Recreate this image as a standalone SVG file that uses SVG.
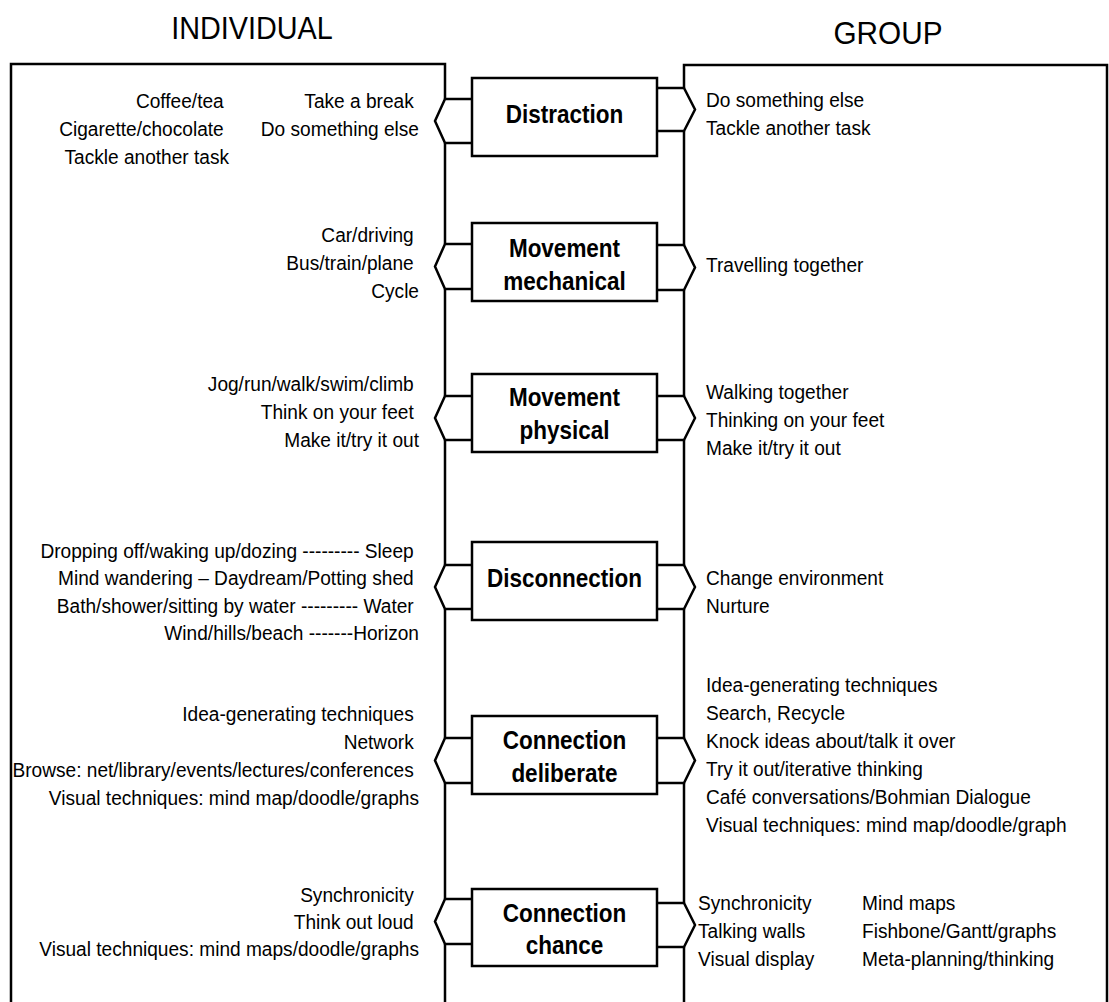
<svg xmlns="http://www.w3.org/2000/svg" width="1109" height="1002" viewBox="0 0 1109 1002">
  <style>
    .frame { fill: none; stroke: #000; stroke-width: 2.5; }
    .box { fill: #fff; stroke: #000; stroke-width: 2.5; }
    .link { fill: none; stroke: #000; stroke-width: 2.5; stroke-linejoin: miter; }
    .head { font-family: "Liberation Sans", Arial, sans-serif; font-size: 32px; fill: #000; }
    .label { font-family: "Liberation Sans", Arial, sans-serif; font-size: 25px; font-weight: bold; fill: #000; text-anchor: middle; }
    .item { font-family: "Liberation Sans", Arial, sans-serif; font-size: 21px; fill: #000; }
    .r { text-anchor: end; }
  </style>

  <rect width="1109" height="1002" fill="#fff"/>

  <!-- column headings -->
  <text class="head" text-anchor="middle" transform="matrix(0.9 0 0 1 252 39)">INDIVIDUAL</text>
  <text class="head" text-anchor="middle" transform="matrix(0.93 0 0 1 888 44)">GROUP</text>

  <!-- INDIVIDUAL panel: open at the bottom, broken where the connectors meet it -->
  <g id="panel-individual">
    <path class="frame" d="M11,1002 V64 H445 V99 M445,143 V244 M445,289 V396 M445,440 V565 M445,609 V738 M445,783 V899 M445,944 V1002"/>
    <text class="item r" transform="matrix(0.91 0 0 1 229 0)">
      <tspan x="0" y="108">Coffee/tea</tspan>
      <tspan x="0" y="136">Cigarette/chocolate</tspan>
      <tspan x="0" y="164">Tackle another task</tspan>
    </text>
    <text class="item r" transform="matrix(0.91 0 0 1 419 0)">
      <tspan x="0" y="108">Take a break</tspan>
      <tspan x="0" y="136">Do something else</tspan>
    </text>
    <text class="item r" transform="matrix(0.91 0 0 1 419 0)">
      <tspan x="0" y="242">Car/driving</tspan>
      <tspan x="0" y="270">Bus/train/plane</tspan>
      <tspan x="0" y="298">Cycle</tspan>
    </text>
    <text class="item r" transform="matrix(0.91 0 0 1 419 0)">
      <tspan x="0" y="391">Jog/run/walk/swim/climb</tspan>
      <tspan x="0" y="419">Think on your feet</tspan>
      <tspan x="0" y="447">Make it/try it out</tspan>
    </text>
    <text class="item r" transform="matrix(0.91 0 0 1 419 0)">
      <tspan x="0" y="558">Dropping off/waking up/dozing --------- Sleep</tspan>
      <tspan x="0" y="585">Mind wandering – Daydream/Potting shed</tspan>
      <tspan x="0" y="613">Bath/shower/sitting by water --------- Water</tspan>
      <tspan x="0" y="640">Wind/hills/beach -------Horizon</tspan>
    </text>
    <text class="item r" transform="matrix(0.91 0 0 1 419 0)">
      <tspan x="0" y="721">Idea-generating techniques</tspan>
      <tspan x="0" y="749">Network</tspan>
      <tspan x="0" y="777">Browse: net/library/events/lectures/conferences</tspan>
      <tspan x="0" y="805">Visual techniques: mind map/doodle/graphs</tspan>
    </text>
    <text class="item r" transform="matrix(0.91 0 0 1 419 0)">
      <tspan x="0" y="902">Synchronicity</tspan>
      <tspan x="0" y="929">Think out loud</tspan>
      <tspan x="0" y="956">Visual techniques: mind maps/doodle/graphs</tspan>
    </text>
  </g>

  <!-- GROUP panel -->
  <g id="panel-group">
    <path class="frame" d="M1107,1002 V65 H684 V88 M684,131 V245 M684,290 V396 M684,440 V565 M684,609 V738 M684,783 V903 M684,947 V1002"/>
    <text class="item" transform="matrix(0.91 0 0 1 706 0)">
      <tspan x="0" y="107">Do something else</tspan>
      <tspan x="0" y="135">Tackle another task</tspan>
    </text>
    <text class="item" transform="matrix(0.91 0 0 1 706 0)">
      <tspan x="0" y="272">Travelling together</tspan>
    </text>
    <text class="item" transform="matrix(0.91 0 0 1 706 0)">
      <tspan x="0" y="399">Walking together</tspan>
      <tspan x="0" y="427">Thinking on your feet</tspan>
      <tspan x="0" y="455">Make it/try it out</tspan>
    </text>
    <text class="item" transform="matrix(0.91 0 0 1 706 0)">
      <tspan x="0" y="585">Change environment</tspan>
      <tspan x="0" y="613">Nurture</tspan>
    </text>
    <text class="item" transform="matrix(0.91 0 0 1 706 0)">
      <tspan x="0" y="692">Idea-generating techniques</tspan>
      <tspan x="0" y="720">Search, Recycle</tspan>
      <tspan x="0" y="748">Knock ideas about/talk it over</tspan>
      <tspan x="0" y="776">Try it out/iterative thinking</tspan>
      <tspan x="0" y="804">Café conversations/Bohmian Dialogue</tspan>
      <tspan x="0" y="832">Visual techniques: mind map/doodle/graph</tspan>
    </text>
    <text class="item" transform="matrix(0.91 0 0 1 698 0)">
      <tspan x="0" y="910">Synchronicity</tspan>
      <tspan x="0" y="938">Talking walls</tspan>
      <tspan x="0" y="966">Visual display</tspan>
    </text>
    <text class="item" transform="matrix(0.91 0 0 1 862 0)">
      <tspan x="0" y="910">Mind maps</tspan>
      <tspan x="0" y="938">Fishbone/Gantt/graphs</tspan>
      <tspan x="0" y="966">Meta-planning/thinking</tspan>
    </text>
  </g>

  <!-- connectors: each mode box joined to both panels by a pointed link -->
  <g id="connectors">
    <path class="link" d="M472,99 H445 L435,121 L445,143 H472"/>
    <path class="link" d="M657,88 H684 L695,109.5 L684,131 H657"/>
    <path class="link" d="M472,244 H445 L435,266.5 L445,289 H472"/>
    <path class="link" d="M657,245 H684 L695,267.5 L684,290 H657"/>
    <path class="link" d="M472,396 H445 L435,418 L445,440 H472"/>
    <path class="link" d="M657,396 H684 L695,418 L684,440 H657"/>
    <path class="link" d="M472,565 H445 L435,587 L445,609 H472"/>
    <path class="link" d="M657,565 H684 L695,587 L684,609 H657"/>
    <path class="link" d="M472,738 H445 L435,760.5 L445,783 H472"/>
    <path class="link" d="M657,738 H684 L695,760.5 L684,783 H657"/>
    <path class="link" d="M472,899 H445 L435,921.5 L445,944 H472"/>
    <path class="link" d="M657,903 H684 L695,925 L684,947 H657"/>
  </g>

  <g id="node-distraction">
    <rect class="box" x="472" y="78" width="185" height="78"/>
    <text class="label" transform="matrix(0.9 0 0 1 564.5 0)"><tspan x="0" y="123">Distraction</tspan></text>
  </g>
  <g id="node-movement-mechanical">
    <rect class="box" x="472" y="223" width="185" height="78"/>
    <text class="label" transform="matrix(0.9 0 0 1 564.5 0)"><tspan x="0" y="257">Movement</tspan><tspan x="0" y="290">mechanical</tspan></text>
  </g>
  <g id="node-movement-physical">
    <rect class="box" x="472" y="374" width="185" height="78"/>
    <text class="label" transform="matrix(0.9 0 0 1 564.5 0)"><tspan x="0" y="406">Movement</tspan><tspan x="0" y="439">physical</tspan></text>
  </g>
  <g id="node-disconnection">
    <rect class="box" x="472" y="542" width="185" height="78"/>
    <text class="label" transform="matrix(0.9 0 0 1 564.5 0)"><tspan x="0" y="587">Disconnection</tspan></text>
  </g>
  <g id="node-connection-deliberate">
    <rect class="box" x="472" y="716" width="185" height="78"/>
    <text class="label" transform="matrix(0.9 0 0 1 564.5 0)"><tspan x="0" y="749">Connection</tspan><tspan x="0" y="782">deliberate</tspan></text>
  </g>
  <g id="node-connection-chance">
    <rect class="box" x="472" y="889" width="185" height="77"/>
    <text class="label" transform="matrix(0.9 0 0 1 564.5 0)"><tspan x="0" y="922">Connection</tspan><tspan x="0" y="954">chance</tspan></text>
  </g>
</svg>
